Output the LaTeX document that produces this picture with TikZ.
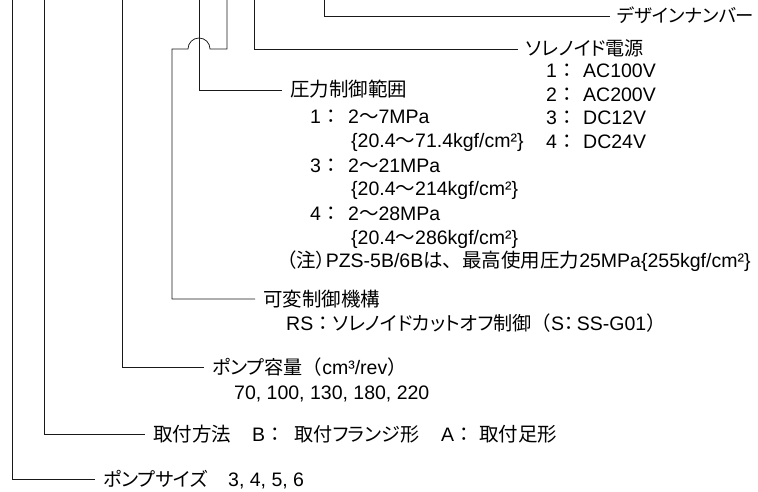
\documentclass[tikz,border=0pt]{standalone}
\usepackage{fontspec}
\setmainfont{Liberation Sans}
\newfontfamily\jp[Scale=1.0]{Noto Sans CJK JP}
\newfontfamily\jpp[Scale=0.98,RawFeature=+palt]{Noto Sans CJK JP}
\tikzset{
  lead/.style={line width=0.75pt, draw=black!90},
  lbl/.style={anchor=west, inner xsep=8pt, inner ysep=0pt, text height=16.5pt, text depth=2.5pt, font=\fontsize{19.5}{19.5}\selectfont},
  itm/.style={lbl, inner xsep=0pt},
}
\begin{document}
\begin{tikzpicture}[x=1pt,y=-1pt]
\useasboundingbox (0,0) rectangle (758,492);
% tops of the leader lines
\coordinate (t1) at (12,0);
\coordinate (t2) at (44,0);
\coordinate (t3) at (122,0);
\coordinate (t4) at (199,0);
\coordinate (t5) at (227,0);
\coordinate (t6) at (254,0);
\coordinate (t7) at (324,0);
\coordinate (k1) at (227,49);
\coordinate (k2) at (210,49);
\coordinate (k3) at (172,49);
% labels
\node[itm, font=\fontsize{18.8}{18.8}\selectfont] (des) at (617,16) {\jpp デザインナンバー};
\coordinate (desend) at (610,16);
\node[lbl] (sol) at (518,49) {\jpp ソレノイド電源};
\node[itm] (s1) at (546,71) {\makebox[37pt][l]{1\jp ：}AC100V};
\node[itm] (s2) at (546,94.5) {\makebox[37pt][l]{2\jp ：}AC200V};
\node[itm] (s3) at (546,118) {\makebox[37pt][l]{3\jp ：}DC12V};
\node[itm] (s4) at (546,141.5) {\makebox[37pt][l]{4\jp ：}DC24V};
\node[lbl] (press) at (282,90) {\jp 圧力制御範囲};
\node[itm] (p1) at (310,117) {\makebox[38pt][l]{1\jp ：}2{\jp 〜}7MPa};
\node[itm] (p1b) at (351,141) {\{20.4{\jp 〜}71.4kgf/cm²\}};
\node[itm] (p3) at (310,165) {\makebox[38pt][l]{3\jp ：}2{\jp 〜}21MPa};
\node[itm] (p3b) at (351,189) {\{20.4{\jp 〜}214kgf/cm²\}};
\node[itm] (p4) at (310,213) {\makebox[38pt][l]{4\jp ：}2{\jp 〜}28MPa};
\node[itm] (p4b) at (351,237) {\{20.4{\jp 〜}286kgf/cm²\}};
\node[itm] (note) at (277,260) {{\jp （注}{\jpp ）}PZS-5B/6B{\jp は、最高使用圧力}25MPa\{255kgf/cm²\}};
\node[lbl] (var) at (255,299) {\jp 可変制御機構};
\node[itm] (rs) at (286,323) {RS{\jp ：}{\jpp ソレノイドカットオフ制御}{\jp （}S{\jpp ：}\,SS-G01{\jp ）}};
\node[lbl] (cap) at (204,367) {{\jpp ポンプ容量}{\jp （}cm³/rev{\jp ）}};
\node[itm] (capv) at (234,392) {70, 100, 130, 180, 220};
\node[lbl] (mount) at (145,434) {\jp 取付方法};
\node[itm] (mb) at (252,434) {\makebox[42pt][l]{B\jp ：}{\jpp 取付フランジ形}};
\node[itm] (ma) at (441,434) {\makebox[38pt][l]{A\jp ：}{\jp 取付足形}};
\node[lbl] (size) at (95,479) {\jpp ポンプサイズ};
\node[itm] (sizev) at (228,479) {3, 4, 5, 6};
% leader lines
\draw[lead] (t1) |- (size.west);
\draw[lead] (t2) |- (mount.west);
\draw[lead] (t3) |- (cap.west);
\draw[lead] (t4) |- (press.west);
\draw[lead] (t5) -- (k1) -- (k2) arc[start angle=0, end angle=180, radius=11pt] -- (k3) |- (var.west);
\draw[lead] (t6) |- (sol.west);
\draw[lead] (t7) |- (desend);
\end{tikzpicture}
\end{document}
